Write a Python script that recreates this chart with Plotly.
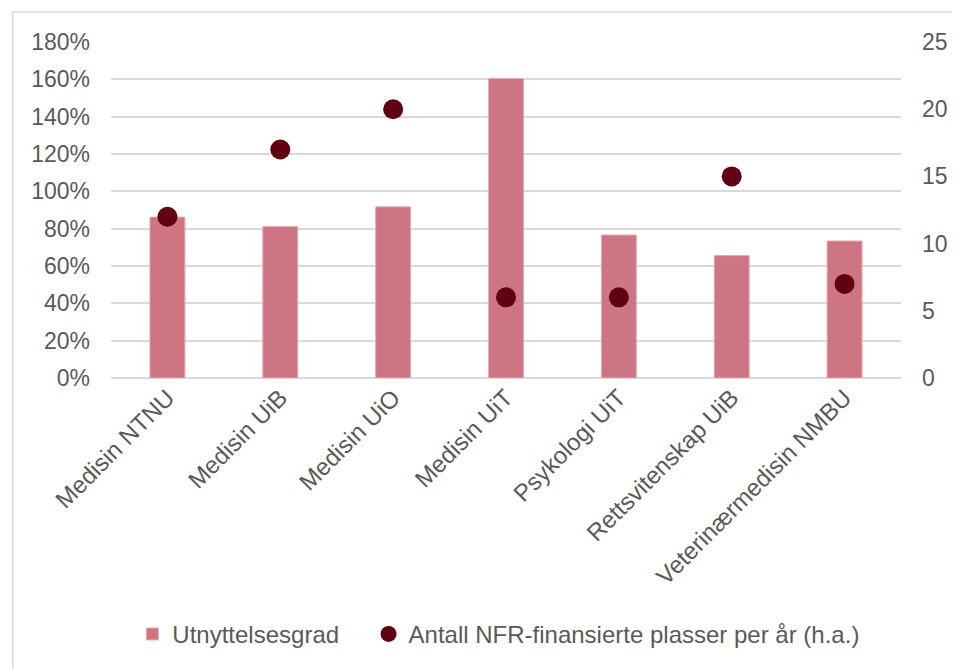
import plotly.graph_objects as go

categories = ["Medisin NTNU", "Medisin UiB", "Medisin UiO", "Medisin UiT",
              "Psykologi UiT", "Rettsvitenskap UiB", "Veterinærmedisin NMBU"]
utnyttelsesgrad = [0.862, 0.811, 0.917, 1.605, 0.766, 0.656, 0.734]
nfr_plasser = [12, 17, 20, 6, 6, 15, 7]
left_ticks = [0, 0.2, 0.4, 0.6, 0.8, 1.0, 1.2, 1.4, 1.6, 1.8]
right_ticks = [0, 5, 10, 15, 20, 25]

FONT = "Liberation Sans, Arial, sans-serif"
TXT = "#595959"
GRID = "#D9D9D9"

fig = go.Figure()
fig.add_trace(go.Bar(
    x=categories, y=utnyttelsesgrad, name="Utnyttelsesgrad",
    marker=dict(color="#CD7582", line=dict(color="#E3AEB6", width=1)),
    yaxis="y", legend="legend",
))
fig.add_trace(go.Scatter(
    x=categories, y=nfr_plasser, name="Antall NFR-finansierte plasser per år (h.a.)",
    mode="markers", marker=dict(color="#600010", size=20),
    yaxis="y2", legend="legend2",
))

fig.update_layout(
    width=952, height=661,
    margin=dict(l=103, r=53, t=34, b=290),
    paper_bgcolor="white", plot_bgcolor="white",
    font=dict(family=FONT, size=23, color=TXT),
    bargap=0.69,
    showlegend=True,
    legend=dict(orientation="h", x=0.027, xanchor="left", y=-0.763, yanchor="middle",
                font=dict(size=24, color=TXT), itemwidth=30),
    legend2=dict(orientation="h", x=0.326, xanchor="left", y=-0.763, yanchor="middle",
                 font=dict(size=24, color=TXT), itemwidth=30),
    xaxis=dict(type="category", tickangle=-45, showgrid=False, showline=False,
               ticks="", tickfont=dict(size=24, color=TXT)),
    yaxis=dict(range=[0, 1.8], tickvals=left_ticks, tickformat=".0%",
               showgrid=True, gridcolor=GRID, gridwidth=1.5,
               zeroline=True, zerolinecolor=GRID, zerolinewidth=1.5,
               showline=False, ticks="", ticklabelstandoff=20,
               tickfont=dict(size=23, color=TXT)),
    yaxis2=dict(range=[0, 25], tickvals=right_ticks, overlaying="y", side="right",
                showgrid=False, zeroline=False, showline=False, ticks="",
                ticklabelstandoff=20, tickfont=dict(size=23, color=TXT)),
    shapes=[dict(type="rect", xref="paper", yref="paper",
                 x0=-0.1244, x1=1.2, y0=-1.0, y1=1.089,
                 line=dict(color=GRID, width=1.5), layer="below")],
)

fig.write_html("out.html")
